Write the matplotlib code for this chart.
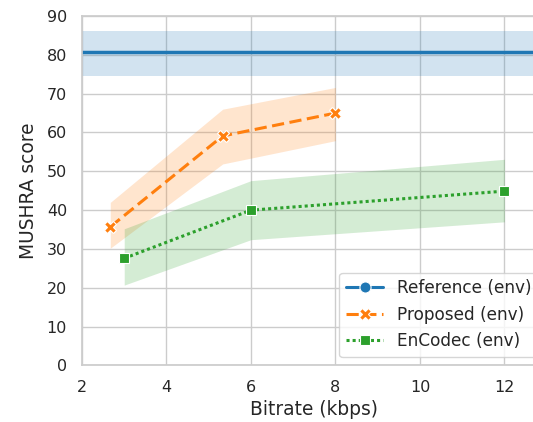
import numpy as np
import matplotlib
matplotlib.use('Agg')
import matplotlib.pyplot as plt
from matplotlib.lines import Line2D
import seaborn as sns

# MUSHRA listening test results (mean and 95% interval)
ref_mean = 80.8
ref_lo = 74.6
ref_hi = 86.1

prop_rate = [2.67, 5.33, 8.0]
prop_mean = [35.7, 59.1, 65.0]
prop_lo = [30.2, 51.9, 57.9]
prop_hi = [42.0, 66.0, 71.6]

enc_rate = [3.0, 6.0, 12.0]
enc_mean = [27.6, 40.0, 44.9]
enc_lo = [20.7, 32.4, 37.0]
enc_hi = [35.2, 47.6, 53.1]

labels = ['Reference (env)', 'Proposed (env)', 'EnCodec (env)']

sns.set_theme(style='whitegrid', palette='tab10')
plt.rcParams['font.family'] = ['DejaVu Sans']
colors = sns.color_palette('tab10')

lw = 2.2
styles = [
	dict(color=colors[0], lw=lw, ls='-', marker='o', ms=8),
	dict(color=colors[1], lw=lw, ls=(0, (4, 1.8)), marker='X', ms=8.5),
	dict(color=colors[2], lw=lw, ls=(0, (1, 1)), marker='s', ms=6.5),
]

fig = plt.figure(figsize=(5.33, 4.22), dpi=100)
ax = fig.add_axes([0.1538, 0.1339, 0.8720, 0.8282])

ax.axhspan(ref_lo, ref_hi, color=colors[0], alpha=0.2, lw=0)
ax.axhline(ref_mean, color=colors[0], lw=lw + 0.3)

ax.fill_between(prop_rate, prop_lo, prop_hi, color=colors[1], alpha=0.2, lw=0)
ax.plot(prop_rate, prop_mean, mec='white', mew=0.8, **styles[1])

ax.fill_between(enc_rate, enc_lo, enc_hi, color=colors[2], alpha=0.2, lw=0)
ax.plot(enc_rate, enc_mean, mec='white', mew=0.8, **styles[2])

ax.set_xlim(2, 13)
ax.set_ylim(0, 90)
ax.set_xticks([2, 4, 6, 8, 10, 12])
ax.set_yticks(np.arange(0, 91, 10))
ax.tick_params(labelsize=11.5, pad=4.7)
ax.set_xlabel('Bitrate (kbps)', fontsize=13.4, labelpad=3)
ax.set_ylabel('MUSHRA score', fontsize=13.4, labelpad=6)

handles = [Line2D([], [], mec='white', mew=0.8, **s) for s in styles]
ax.legend(handles, labels, loc='lower right', fontsize=12.2, handlelength=2.2)

fig.savefig('out.png', dpi=100)
